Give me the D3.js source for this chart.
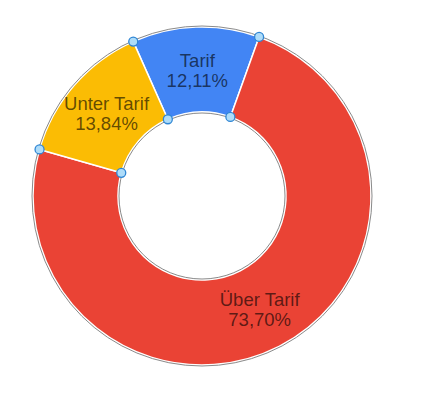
<!DOCTYPE html>
<html><head><meta charset="utf-8">
<script src="https://cdn.jsdelivr.net/npm/d3@7"></script>
<style>body{margin:0;background:#fff}svg{display:block}</style>
</head><body>
<svg id="c" width="422" height="400"></svg>
<script>
const categories = ["Tarif", "Über Tarif", "Unter Tarif"];
const values = [12.11, 73.70, 13.84];
const labels = ["12,11%", "73,70%", "13,84%"];
const colors = ["#4285F4", "#EA4335", "#FBBC04"];

const svg = d3.select("#c");
const cx = 202, cy = 196, R = 169, r = 84;
const g = svg.append("g").attr("transform", `translate(${cx},${cy})`);
const start = -24 * Math.PI / 180;
const pie = d3.pie().sort(null).startAngle(start).endAngle(start + 2 * Math.PI);
const arcs = pie(values);
const arc = d3.arc().innerRadius(r).outerRadius(R);
const labelArc = d3.arc().innerRadius((r + R) / 2).outerRadius((r + R) / 2);

g.selectAll("path.s").data(arcs).join("path").attr("class", "s")
  .attr("d", arc).attr("fill", (d, i) => colors[i])
  .attr("stroke", "#fff").attr("stroke-width", 1.5);

g.append("circle").attr("r", R + 1).attr("fill", "none").attr("stroke", "#8a8a8a").attr("stroke-width", 1);
g.append("circle").attr("r", r - 1).attr("fill", "none").attr("stroke", "#8a8a8a").attr("stroke-width", 1);

// handles at slice boundaries
const handles = [];
arcs.forEach(d => { [R, r].forEach(rad => handles.push([Math.sin(d.startAngle) * rad, -Math.cos(d.startAngle) * rad])); });
g.selectAll("circle.h").data(handles).join("circle").attr("class", "h")
  .attr("cx", d => d[0]).attr("cy", d => d[1]).attr("r", 4.5)
  .attr("fill", "#aedcf9").attr("stroke", "#2f86d4").attr("stroke-width", 1.3);

const t = g.selectAll("text.l").data(arcs).join("text").attr("class", "l")
  .attr("transform", d => `translate(${labelArc.centroid(d)})`)
  .attr("text-anchor", "middle")
  .attr("font-family", "Liberation Sans, Arial, sans-serif").attr("font-size", 18.5)
  .attr("fill", "#000").attr("fill-opacity", 0.62);
t.append("tspan").attr("x", 0).attr("y", -3).text((d, i) => categories[i]);
t.append("tspan").attr("x", 0).attr("y", 17).text((d, i) => labels[i]);
</script>
</body></html>
